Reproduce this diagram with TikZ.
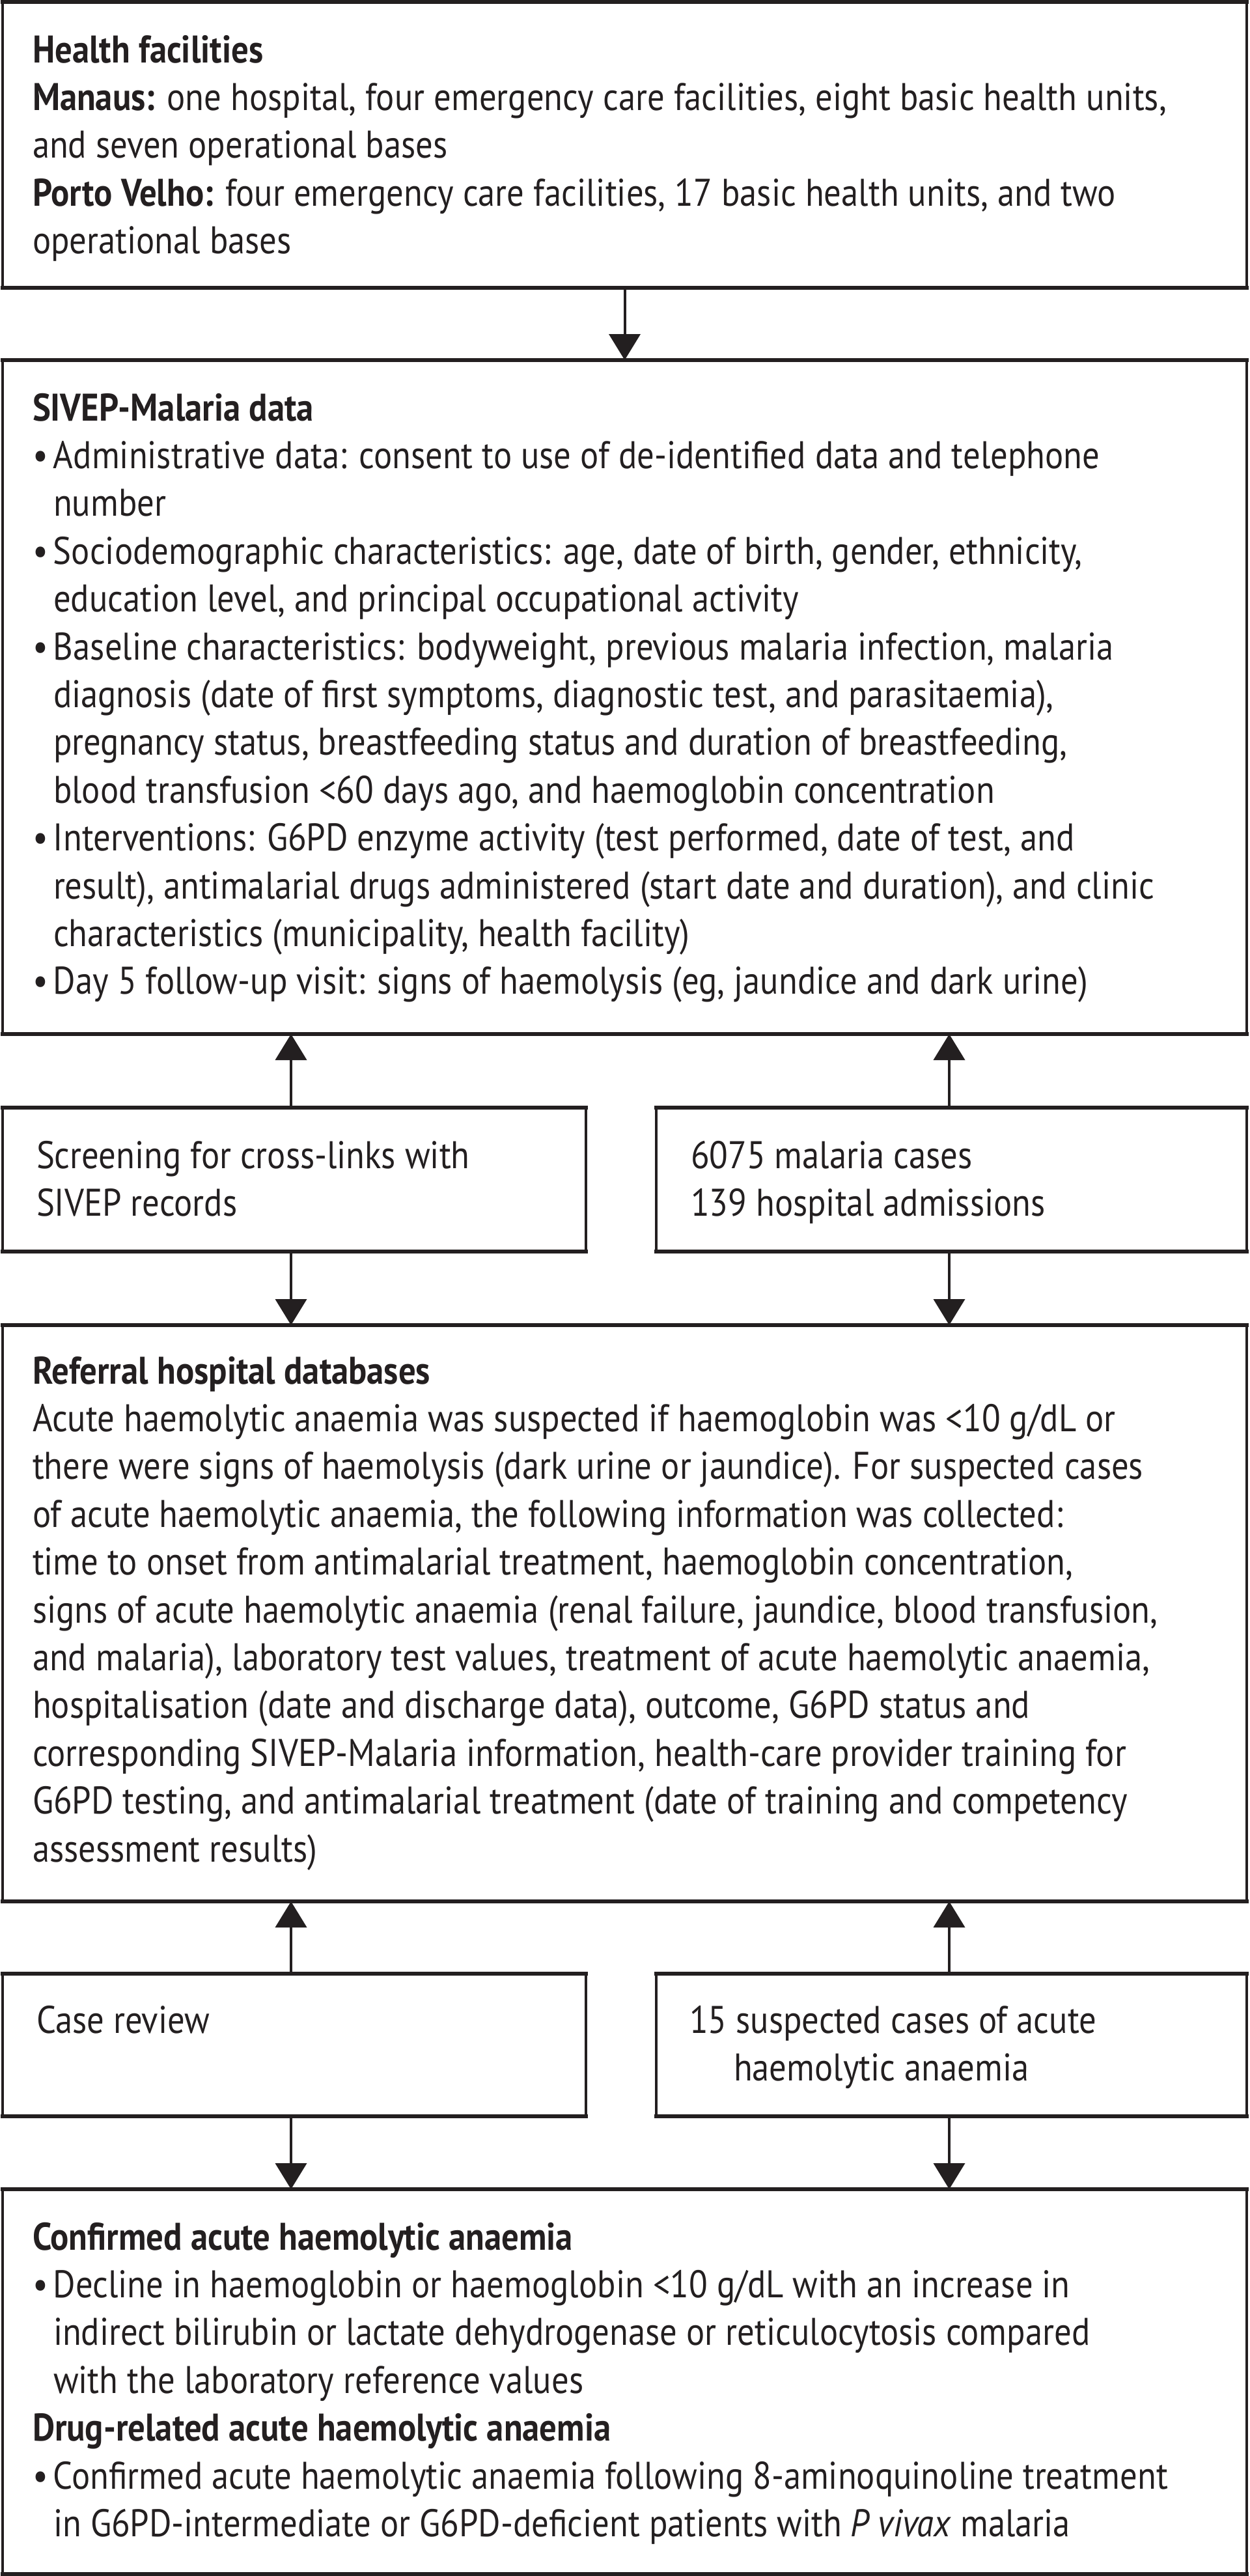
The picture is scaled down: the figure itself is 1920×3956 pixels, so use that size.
\documentclass[tikz,border=0pt]{standalone}
\usepackage{fontspec}
\setmainfont{PT Sans}[FakeStretch=0.89]
\usetikzlibrary{arrows.meta,fit}
\definecolor{ink}{RGB}{35,31,32}
\newcommand\blk[1]{\vtop{\hsize=1200pt\parindent=0pt\parskip=0pt\rightskip=0pt plus 1fil\fontsize{29.6pt}{36.7pt}\selectfont\baselineskip=36.7pt\lineskiplimit=-50pt #1\par}}
\newcommand\bitem{\hangindent=16pt\hangafter=1\makebox[16pt][l]{•}}
\tikzset{
  box/.style={draw=ink, line width=2pt, inner sep=0pt, outer sep=0pt},
  hedge/.style={draw=ink, line width=3pt, line cap=rect},
  arr/.style={draw=ink, line width=2pt, -{Triangle[length=20pt,width=24pt]}},
  txt/.style={anchor=base west, inner sep=0pt, outer sep=0pt, text=ink},
}
\begin{document}
\begin{tikzpicture}[x=0.5pt,y=-0.5pt]
\useasboundingbox (0,0) rectangle (1920,3956);
\fill[white] (0,0) rectangle (1920,3956);
% boxes
\node[box, fit={(4,3) (1915,442)}] (b1) {};
\node[box, fit={(4,553) (1915,1588)}] (b2) {};
\node[box, fit={(4,1701) (900,1922)}] (m1) {};
\node[box, fit={(1008,1701) (1915,1922)}] (m2) {};
\node[box, fit={(4,2035) (1915,2920)}] (b3) {};
\node[box, fit={(4,3031) (900,3250)}] (l1) {};
\node[box, fit={(1008,3031) (1915,3250)}] (l2) {};
\node[box, fit={(4,3362) (1915,3953)}] (b5) {};
\foreach \n in {b1,b2,m1,m2,b3,l1,l2,b5}{
  \draw[hedge] (\n.north west) -- (\n.north east);
  \draw[hedge] (\n.south west) -- (\n.south east);
}
% texts
\node[txt] (t1) at (50,96) {\blk{%
\textbf{Health facilities}\par
\textbf{Manaus:} one hospital, four emergency care facilities, eight basic health units,\\
and seven operational bases\par
\textbf{Porto Velho:} four emergency care facilities, 17 basic health units, and two\\
operational bases}};
\node[txt] (t2) at (50,646) {\blk{%
\textbf{SIVEP-Malaria data}\par
\bitem Administrative data: consent to use of de-identified data and telephone\\
number\par
\bitem Sociodemographic characteristics: age, date of birth, gender, ethnicity,\\
education level, and principal occupational activity\par
\bitem Baseline characteristics: bodyweight, previous malaria infection, malaria\\
diagnosis (date of first symptoms, diagnostic test, and parasitaemia),\\
pregnancy status, breastfeeding status and duration of breastfeeding,\\
blood transfusion <60 days ago, and haemoglobin concentration\par
\bitem Interventions: G6PD enzyme activity (test performed, date of test, and\\
result), antimalarial drugs administered (start date and duration), and clinic\\
characteristics (municipality, health facility)\par
\bitem Day 5 follow-up visit: signs of haemolysis (eg, jaundice and dark urine)}};
\node[txt] (tm1) at (56,1794) {\blk{Screening for cross-links with\\ SIVEP records}};
\node[txt] (tm2) at (1061,1794) {\blk{6075 malaria cases\\ 139 hospital admissions}};
\node[txt] (t3) at (50,2125) {\blk{%
\textbf{Referral hospital databases}\par
Acute haemolytic anaemia was suspected if haemoglobin was <10 g/dL or\\
there were signs of haemolysis (dark urine or jaundice). For suspected cases\\
of acute haemolytic anaemia, the following information was collected:\\
time to onset from antimalarial treatment, haemoglobin concentration,\\
signs of acute haemolytic anaemia (renal failure, jaundice, blood transfusion,\\
and malaria), laboratory test values, treatment of acute haemolytic anaemia,\\
hospitalisation (date and discharge data), outcome, G6PD status and\\
corresponding SIVEP-Malaria information, health-care provider training for\\
G6PD testing, and antimalarial treatment (date of training and competency\\
assessment results)}};
\node[txt] (tl1) at (56,3122) {\blk{Case review}};
\node[txt] (tl2) at (1059,3122) {\blk{15 suspected cases of acute\\ \hspace*{34pt}haemolytic anaemia}};
\node[txt] (t5) at (50,3455) {\blk{%
\textbf{Confirmed acute haemolytic anaemia}\par
\bitem Decline in haemoglobin or haemoglobin <10 g/dL with an increase in\\
indirect bilirubin or lactate dehydrogenase or reticulocytosis compared\\
with the laboratory reference values\par
\textbf{Drug-related acute haemolytic anaemia}\par
\bitem Confirmed acute haemolytic anaemia following 8-aminoquinoline treatment\\
in G6PD-intermediate or G6PD-deficient patients with \textit{P vivax} malaria}};
% arrows
\coordinate (xL) at (447,0);
\coordinate (xR) at (1458,0);
\draw[arr] (b1.south) -- (b2.north);
\draw[arr] (m1.north -| xL) -- (b2.south -| xL);
\draw[arr] (m2.north -| xR) -- (b2.south -| xR);
\draw[arr] (m1.south -| xL) -- (b3.north -| xL);
\draw[arr] (m2.south -| xR) -- (b3.north -| xR);
\draw[arr] (l1.north -| xL) -- (b3.south -| xL);
\draw[arr] (l2.north -| xR) -- (b3.south -| xR);
\draw[arr] (l1.south -| xL) -- (b5.north -| xL);
\draw[arr] (l2.south -| xR) -- (b5.north -| xR);
\end{tikzpicture}
\end{document}
